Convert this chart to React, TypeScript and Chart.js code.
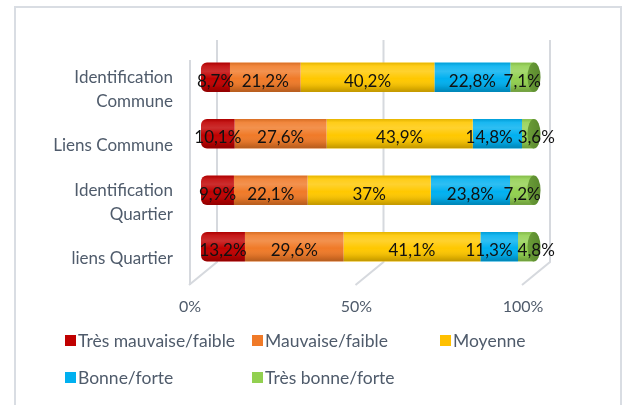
import React, { useEffect, useRef } from "react";
import { Chart, registerables } from "chart.js";

Chart.register(...registerables);

const categories: (string | string[])[] = [
  ["Identification", "Commune"],
  "Liens Commune",
  ["Identification", "Quartier"],
  "liens Quartier",
];
const seriesNames = [
  "Très mauvaise/faible",
  "Mauvaise/faible",
  "Moyenne",
  "Bonne/forte",
  "Très bonne/forte",
];
const tresMauvaise = [8.7, 10.1, 9.9, 13.2];
const mauvaise = [21.2, 27.6, 22.1, 29.6];
const moyenne = [40.2, 43.9, 37, 41.1];
const bonne = [22.8, 14.8, 23.8, 11.3];
const tresBonne = [7.1, 3.6, 7.2, 4.8];
const xTicks = [0, 50, 100];

const colors = ["#C00000", "#F07A28", "#FFC800", "#00B0F0", "#92D050"];
const legendColors = ["#C00000", "#F07A28", "#FFC000", "#00B0F0", "#92D050"];
const capColors = ["#8a0000", "#b85a18", "#c79800", "#0086b8", "#6a9c38"];

const FONT = "Lato, 'Open Sans', sans-serif";
const TEXT = "#4F5B6B";

const fmt = (v: number) => String(v).replace(".", ",") + "%";

const framePlugin = {
  id: "frame",
  beforeDraw(chart: any) {
    const c = chart.ctx;
    c.save();
    c.fillStyle = "#ffffff";
    c.fillRect(0, 0, chart.width, chart.height);
    c.strokeStyle = "#d9dde3";
    c.lineWidth = 2;
    c.strokeRect(15, 7, 606, chart.height + 10);
    c.restore();
  },
};

const wallsPlugin = {
  id: "walls",
  beforeDatasetsDraw(chart: any) {
    const c = chart.ctx;
    const xs = chart.scales.x;
    const area = chart.chartArea;
    const backTop = area.top - 9;
    const backBottom = area.bottom - 13;
    const frontBottom = area.bottom + 10;
    c.save();
    c.strokeStyle = "#d6d9de";
    c.lineWidth = 2;
    xTicks.forEach((v) => {
      const px = xs.getPixelForValue(v);
      const back = px + 16;
      c.beginPath();
      c.moveTo(back, backTop);
      c.lineTo(back, backBottom);
      c.lineTo(back - 28, frontBottom);
      c.stroke();
    });
    const left = xs.getPixelForValue(0) - 11;
    c.beginPath();
    c.moveTo(left, area.top + 11);
    c.lineTo(left, frontBottom);
    c.stroke();
    c.restore();
  },
};

const cylinderPlugin = {
  id: "cylinder",
  afterDatasetsDraw(chart: any) {
    const c = chart.ctx;
    const n = chart.data.datasets.length;
    const first = chart.getDatasetMeta(0);
    const last = chart.getDatasetMeta(n - 1);
    c.save();
    first.data.forEach((el: any, i: number) => {
      const h = el.height;
      const top = el.y - h / 2;
      const left = el.base;
      const right = last.data[i].x;
      c.save();
      c.beginPath();
      if ((c as any).roundRect) {
        (c as any).roundRect(left, top, right - left, h, [6, 0, 0, 6]);
      } else {
        c.rect(left, top, right - left, h);
      }
      c.clip();
      const g = c.createLinearGradient(0, top, 0, top + h);
      g.addColorStop(0, "rgba(0,0,0,0.10)");
      g.addColorStop(0.12, "rgba(255,255,255,0.10)");
      g.addColorStop(0.3, "rgba(255,255,255,0.18)");
      g.addColorStop(0.55, "rgba(255,255,255,0)");
      g.addColorStop(0.85, "rgba(0,0,0,0.12)");
      g.addColorStop(1, "rgba(0,0,0,0.25)");
      c.fillStyle = g;
      c.fillRect(left - 2, top, right - left + 4, h);
      c.restore();
      c.beginPath();
      c.ellipse(right, el.y, 6.5, h / 2, 0, 0, Math.PI * 2);
      const cg = c.createLinearGradient(right - 6, 0, right + 6, 0);
      cg.addColorStop(0, capColors[n - 1]);
      cg.addColorStop(1, "#5b8a2e");
      c.fillStyle = cg;
      c.fill();
    });
    // data labels with simple collision avoidance
    c.font = `17px ${FONT}`;
    c.fillStyle = "#111111";
    c.textAlign = "center";
    c.textBaseline = "middle";
    const rows = first.data.length;
    for (let i = 0; i < rows; i++) {
      const items = chart.data.datasets.map((ds: any, di: number) => {
        const el = chart.getDatasetMeta(di).data[i];
        const text = fmt(ds.data[i]);
        const w = c.measureText(text).width;
        return { text, cx: (el.x + el.base) / 2, w, y: el.y };
      });
      const gap = 5;
      for (let k = 1; k < items.length; k++) {
        const a = items[k - 1];
        const b = items[k];
        const overlap = a.cx + a.w / 2 + gap - (b.cx - b.w / 2);
        if (overlap > 0) {
          a.cx -= overlap / 2;
          b.cx += overlap / 2;
        }
      }
      items.forEach((it: any) => c.fillText(it.text, it.cx, it.y + 4));
    }
    c.restore();
  },
};

const legendPlugin = {
  id: "gridLegend",
  afterDraw(chart: any) {
    const c = chart.ctx;
    const cols = [65, 252, 440];
    const rows = [340, 377];
    c.save();
    c.font = `17.5px ${FONT}`;
    c.textBaseline = "middle";
    c.textAlign = "left";
    chart.data.datasets.forEach((ds: any, i: number) => {
      const x = cols[i % 3];
      const y = rows[Math.floor(i / 3)];
      c.fillStyle = legendColors[i];
      c.fillRect(x, y - 5, 11, 11);
      c.fillStyle = TEXT;
      c.fillText(ds.label, x + 13, y + 1);
    });
    c.restore();
  },
};

export default function App() {
  const ref = useRef<HTMLCanvasElement | null>(null);
  useEffect(() => {
    if (!ref.current) return;
    const values = [tresMauvaise, mauvaise, moyenne, bonne, tresBonne];
    const chart = new Chart(ref.current, {
      type: "bar",
      data: {
        labels: categories as any,
        datasets: values.map((d, i) => ({
          label: seriesNames[i],
          data: d,
          backgroundColor: colors[i],
          borderWidth: 0,
          borderSkipped: false,
          borderRadius:
            i === 0
              ? { topLeft: 6, bottomLeft: 6, topRight: 0, bottomRight: 0 }
              : 0,
          barPercentage: 0.52,
          categoryPercentage: 1,
        })),
      },
      options: {
        indexAxis: "y",
        animation: false,
        responsive: false,
        maintainAspectRatio: false,
        layout: { padding: { left: 0, right: 89, top: 49, bottom: 90 } },
        plugins: {
          legend: { display: false },
          tooltip: { enabled: false },
        },
        scales: {
          x: {
            stacked: true,
            min: 0,
            max: 100,
            afterBuildTicks: (s: any) => {
              s.ticks = xTicks.map((v) => ({ value: v }));
            },
            afterFit: (s: any) => {
              s.height = 40;
            },
            grid: { display: false, drawTicks: false },
            border: { display: false },
            ticks: {
              padding: 22,
              labelOffset: -11,
              color: TEXT,
              font: { family: FONT, size: 16 },
              callback: (v: any) => v + "%",
            },
          },
          y: {
            stacked: true,
            afterFit: (s: any) => {
              s.width = 201;
            },
            grid: { display: false, drawTicks: false },
            border: { display: false },
            ticks: {
              padding: 28,
              labelOffset: 12,
              color: TEXT,
              font: { family: FONT, size: 17, lineHeight: 1.4 },
            },
          },
        },
      },
      plugins: [framePlugin, wallsPlugin, cylinderPlugin, legendPlugin],
    });
    return () => chart.destroy();
  }, []);
  return (
    <div style={{ position: "fixed", left: 0, top: 0, width: 623, height: 405 }}>
      <canvas ref={ref} width={623} height={405} style={{ width: 623, height: 405 }} />
    </div>
  );
}
